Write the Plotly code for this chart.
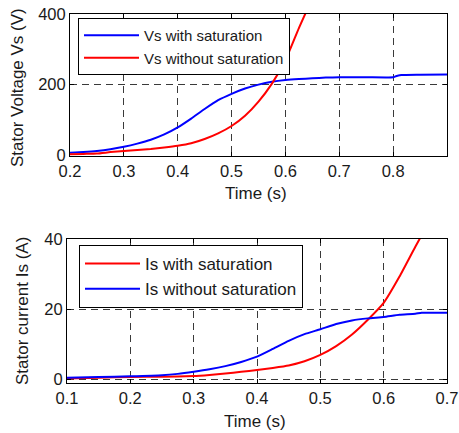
import plotly.graph_objects as go

# ---- Top panel: stator voltage ----
t_vs_sat = [0.200, 0.225, 0.250, 0.275, 0.300, 0.325, 0.350, 0.375, 0.400, 0.425, 0.450, 0.475, 0.500,
            0.525, 0.550, 0.575, 0.600, 0.625, 0.650, 0.675, 0.700, 0.750, 0.800, 0.805, 0.815, 0.850, 0.900]
vs_sat = [7, 9, 12, 17, 24, 33, 44, 59, 79, 104, 131, 156, 174,
          189, 200, 208, 213, 216, 218, 220, 221, 221, 221, 224, 227, 228, 229]

t_vs_nosat = [0.200, 0.225, 0.250, 0.275, 0.300, 0.325, 0.350, 0.375, 0.400, 0.425, 0.450, 0.475, 0.500,
              0.525, 0.550, 0.575, 0.600, 0.625, 0.650]
vs_nosat = [3, 4, 5, 9, 12, 15, 18, 22, 27, 34, 46, 62, 83,
            112, 152, 203, 269, 360, 445]

# ---- Bottom panel: stator current ----
t_is_sat = [0.100, 0.150, 0.200, 0.250, 0.300, 0.325, 0.350, 0.375, 0.400, 0.425, 0.450, 0.475, 0.500,
            0.525, 0.550, 0.575, 0.600, 0.625, 0.650, 0.675]
is_sat = [0.3, 0.5, 0.7, 0.8, 1.0, 1.3, 1.7, 2.2, 2.7, 3.3, 4.0, 5.2, 7.0,
          9.5, 12.8, 17.0, 21.8, 29.3, 37.8, 46.0]

t_is_nosat = [0.100, 0.150, 0.200, 0.250, 0.275, 0.300, 0.325, 0.350, 0.375, 0.400, 0.425, 0.450, 0.475,
              0.500, 0.525, 0.550, 0.575, 0.600, 0.625, 0.650, 0.660, 0.700]
is_nosat = [0.5, 0.7, 0.9, 1.2, 1.6, 2.2, 2.9, 3.8, 5.0, 6.5, 8.7, 11.0, 12.9,
            14.3, 15.8, 16.8, 17.4, 17.8, 18.4, 18.7, 19.0, 19.0]

top_xticks = [0.2, 0.3, 0.4, 0.5, 0.6, 0.7, 0.8]
top_yticks = [0, 200, 400]
bot_xticks = [0.1, 0.2, 0.3, 0.4, 0.5, 0.6, 0.7]
bot_yticks = [0, 20, 40]

FONT = "Liberation Sans, Arial, sans-serif"
TXT = "#1a1a1a"
BLUE = "#0000ff"
RED = "#ff0000"
W, H = 459, 433

line_style = dict(width=2, shape="spline", smoothing=0.5)

fig = go.Figure()
fig.add_trace(go.Scatter(x=t_vs_sat, y=vs_sat, mode="lines", name="Vs with saturation",
                         line=dict(color=BLUE, **line_style), xaxis="x", yaxis="y", legend="legend"))
fig.add_trace(go.Scatter(x=t_vs_nosat, y=vs_nosat, mode="lines", name="Vs without saturation",
                         line=dict(color=RED, **line_style), xaxis="x", yaxis="y", legend="legend"))
fig.add_trace(go.Scatter(x=t_is_sat, y=is_sat, mode="lines", name="Is with saturation",
                         line=dict(color=RED, **line_style), xaxis="x2", yaxis="y2", legend="legend2"))
fig.add_trace(go.Scatter(x=t_is_nosat, y=is_nosat, mode="lines", name="Is without saturation",
                         line=dict(color=BLUE, **line_style), xaxis="x2", yaxis="y2", legend="legend2"))

axis_common = dict(
    showline=True, linecolor="black", linewidth=1, mirror="ticks",
    ticks="inside", ticklen=4, tickcolor="black",
    showgrid=True, gridcolor="#3a3a3a", gridwidth=1, griddash="7px,5px",
    zeroline=False, automargin=False,
    tickfont=dict(size=16.5, color=TXT, family=FONT),
)

fig.update_layout(
    width=W, height=H,
    margin=dict(l=0, r=0, t=0, b=0, autoexpand=False),
    paper_bgcolor="white", plot_bgcolor="white",
    font=dict(family=FONT, color=TXT),
    xaxis=dict(domain=[70 / W, 447 / W], anchor="y", range=[0.2, 0.9], tickvals=top_xticks,
               ticktext=[f"{v:g}" for v in top_xticks], **axis_common),
    yaxis=dict(domain=[1 - 156 / H, 1 - 14 / H], anchor="x", range=[-2, 400], tickvals=top_yticks,
               **axis_common),
    xaxis2=dict(domain=[67 / W, 447 / W], anchor="y2", range=[0.1, 0.7], tickvals=bot_xticks,
                ticktext=[f"{v:g}" for v in bot_xticks], **axis_common),
    yaxis2=dict(domain=[1 - 383 / H, 1 - 239 / H], anchor="x2", range=[-1, 40], tickvals=bot_yticks,
                **axis_common),
    legend=dict(x=78 / W, y=1 - 18 / H, xanchor="left", yanchor="top",
                bgcolor="white", bordercolor="black", borderwidth=1,
                font=dict(size=15, color=TXT), itemwidth=55, tracegroupgap=0),
    legend2=dict(x=79 / W, y=1 - 245 / H, xanchor="left", yanchor="top",
                 bgcolor="white", bordercolor="black", borderwidth=1,
                 font=dict(size=17, color=TXT), itemwidth=55, tracegroupgap=0),
    showlegend=True,
)

titles = [
    ("Time (s)", 256 / W, 1 - 193 / H, 0),
    ("Stator Voltage Vs (V)", 17 / W, 1 - 88 / H, -90),
    ("Time (s)", 255 / W, 1 - 421 / H, 0),
    ("Stator current Is (A)", 22 / W, 1 - 311 / H, -90),
]
for text, x, y, ang in titles:
    fig.add_annotation(text=text, x=x, y=y, xref="paper", yref="paper",
                       xanchor="center", yanchor="middle", textangle=ang, showarrow=False,
                       font=dict(size=17, color=TXT, family=FONT))

fig.write_html("out.html", config={"displayModeBar": False},
               post_script="document.body.style.margin='0';document.body.style.padding='0';")
